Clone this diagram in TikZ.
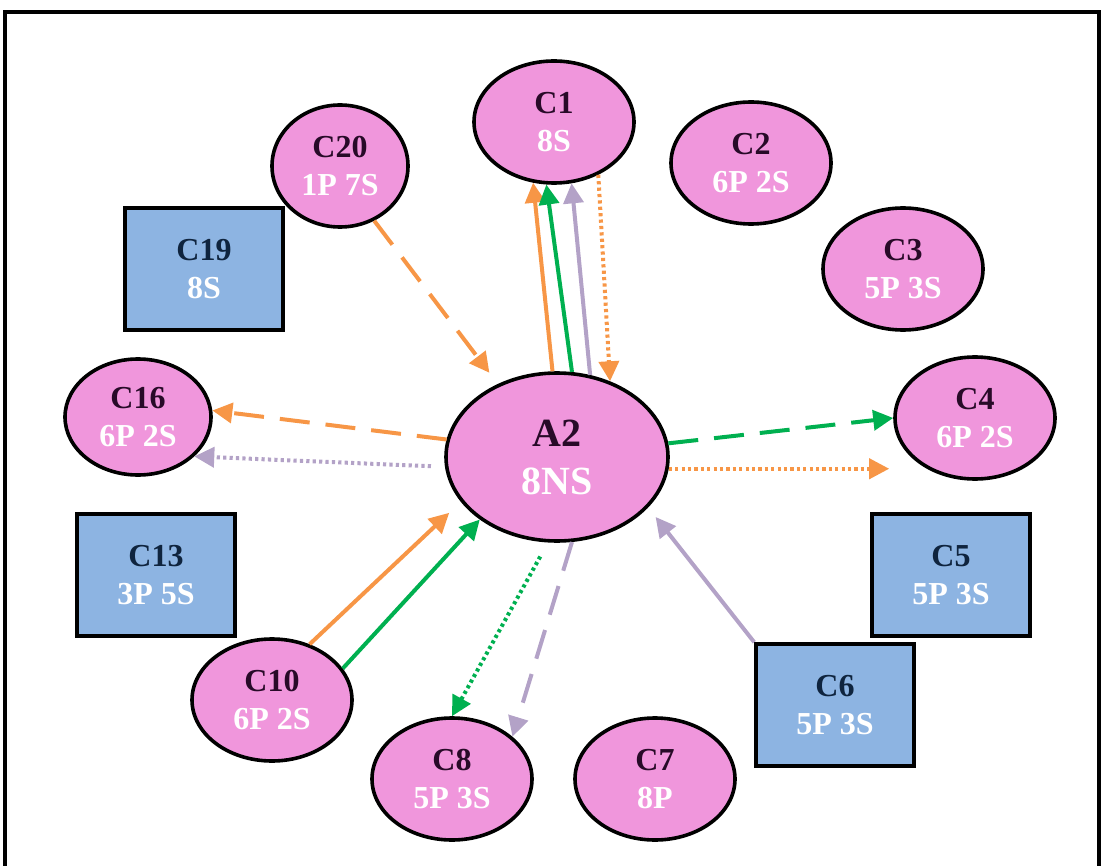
\documentclass[tikz,border=0pt]{standalone}
\usepackage{fontspec}
\setmainfont{Liberation Serif}
\usetikzlibrary{shapes.geometric,arrows.meta}
\definecolor{cpink}{RGB}{240,150,220}
\definecolor{cblue}{RGB}{141,180,226}
\definecolor{corange}{RGB}{247,150,70}
\definecolor{cgreen}{RGB}{0,176,80}
\definecolor{clav}{RGB}{179,162,199}
\definecolor{cdark}{RGB}{40,10,40}
\definecolor{cnavy}{RGB}{15,36,62}

\begin{document}
\begin{tikzpicture}[x=0.5pt,y=-0.5pt,
  cell/.style={ellipse,draw=black,line width=1.8pt,fill=cpink,minimum width=80pt,minimum height=61pt,inner sep=0pt,align=center,font=\bfseries\fontsize{16}{19}\selectfont,text=cdark},
  box/.style={rectangle,draw=black,line width=1.8pt,fill=cblue,minimum width=79pt,minimum height=61pt,inner sep=0pt,align=center,font=\bfseries\fontsize{16}{19}\selectfont,text=cnavy},
  link/.style={line width=2pt,-{Triangle[length=10pt,width=10pt]}},
  dashline/.style={dash pattern=on 15pt off 8pt},
  dotline/.style={dash pattern=on 1.6pt off 1.6pt}]%cluster A2
\useasboundingbox (0,0) rectangle (1103,866);
\draw[line width=2pt] (5,880) -- (5,12) -- (1099,12) -- (1099,880);
\node[cell] (C1) at (554,122) {C1\\\textcolor{white}{8S}};
\node[cell,minimum width=68pt] (C20) at (340,166) {C20\\\textcolor{white}{1P 7S}};
\node[cell] (C2) at (751,163) {C2\\\textcolor{white}{6P 2S}};
\node[cell] (C3) at (903,269) {C3\\\textcolor{white}{5P 3S}};
\node[box] (C19) at (204,269) {C19\\\textcolor{white}{8S}};
\node[cell,minimum width=73pt,minimum height=58pt] (C16) at (138,417) {C16\\\textcolor{white}{6P 2S}};
\node[cell,minimum width=111pt,minimum height=84pt,font=\bfseries\fontsize{20}{24}\selectfont] (A2) at (557,457) {A2\\\textcolor{white}{8NS}};
\node[cell] (C4) at (975,418) {C4\\\textcolor{white}{6P 2S}};
\node[box] (C13) at (156,575) {C13\\\textcolor{white}{3P 5S}};
\node[box] (C5) at (951,575) {C5\\\textcolor{white}{5P 3S}};
\node[cell] (C10) at (272,700) {C10\\\textcolor{white}{6P 2S}};
\node[box] (C6) at (835,705) {C6\\\textcolor{white}{5P 3S}};
\node[cell] (C8) at (452,779) {C8\\\textcolor{white}{5P 3S}};
\node[cell] (C7) at (655,779) {C7\\\textcolor{white}{8P}};
% links to and from A2
\draw[link,corange,dashline,shorten >=7pt] (C20.-58) -- (A2.129);
\draw[link,corange] (A2.93) -- (C1.-109);
\draw[link,cgreen] (A2.80) -- (C1.-97);
\draw[link,clav] (A2.68) -- (C1.-74);
\draw[link,corange,dotline] (C1.-50) -- (A2.55);
\draw[link,corange,dashline] (A2.171) -- (C16.5);
\draw[link,clav,dotline,shorten <=7pt] (A2.185) -- (C16.-35);
\draw[link,cgreen,dashline] (A2.7) -- (C4.180);
\draw[link,corange,dotline,shorten >=2pt] (A2.-6) -- (A2.-6 -| C4.west);
\draw[link,clav,shorten >=6pt] (C6.north west) -- (A2.-29);
\draw[link,corange,shorten >=8pt] (C10.56) -- (A2.205);
\draw[link,cgreen] (C10.24) -- (A2.219);
\draw[link,cgreen,dotline,shorten <=8pt] (A2.-96) -- (C8.north);
\draw[link,clav,dashline] (A2.-80) -- (C8.35);
\end{tikzpicture}
\end{document}
